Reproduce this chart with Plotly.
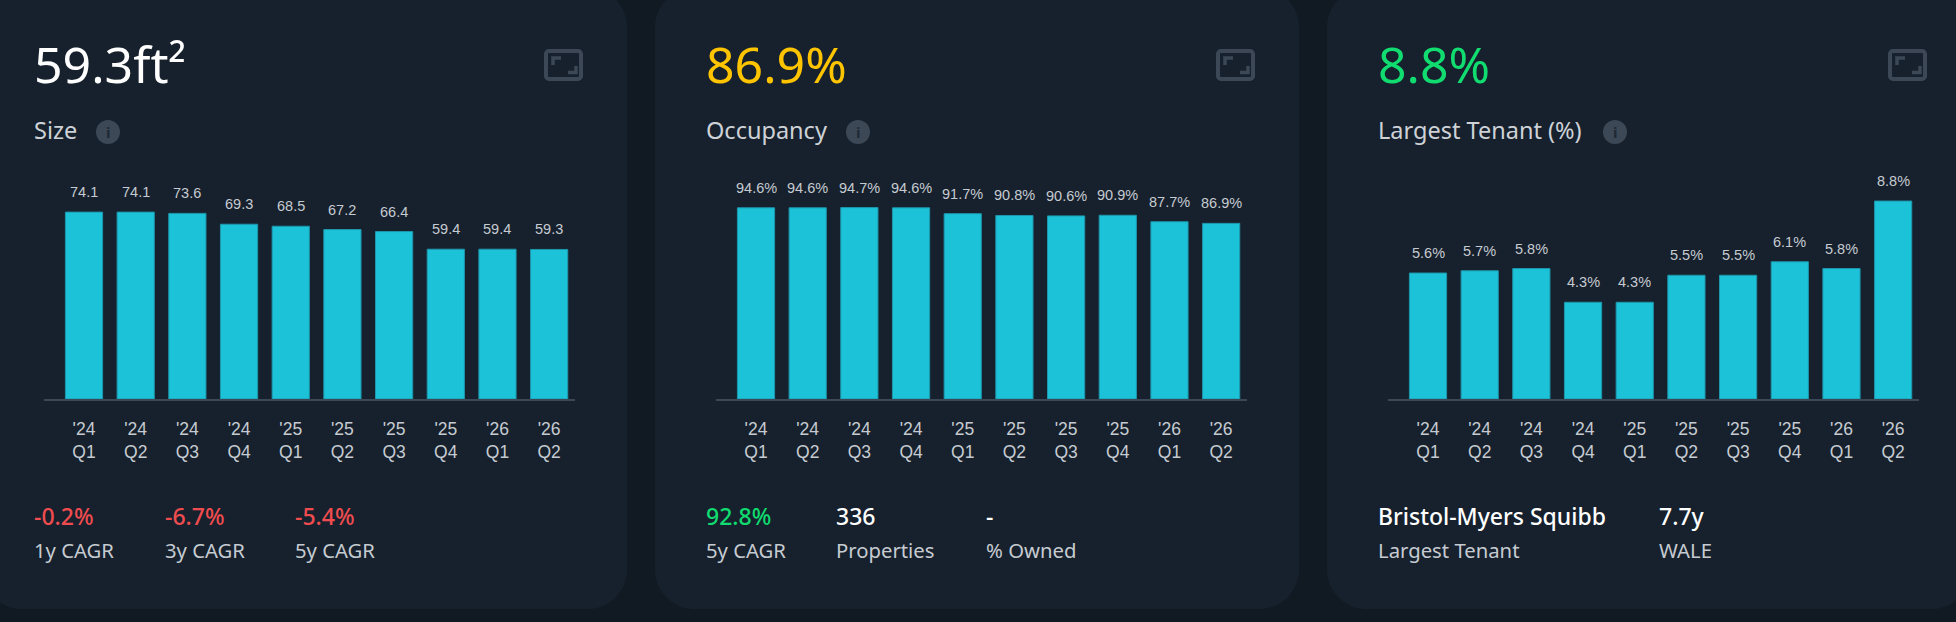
import plotly.graph_objects as go

W = 1956
H = 622

quarters = ["'24<br>Q1", "'24<br>Q2", "'24<br>Q3", "'24<br>Q4", "'25<br>Q1",
            "'25<br>Q2", "'25<br>Q3", "'25<br>Q4", "'26<br>Q1", "'26<br>Q2"]

size_values = [74.1, 74.1, 73.6, 69.3, 68.5, 67.2, 66.4, 59.4, 59.4, 59.3]
occupancy_values = [94.6, 94.6, 94.7, 94.6, 91.7, 90.8, 90.6, 90.9, 87.7, 86.9]
tenant_values = [5.6, 5.7, 5.8, 4.3, 4.3, 5.5, 5.5, 6.1, 5.8, 8.8]

size_labels = [f"{v}" for v in size_values]
occupancy_labels = [f"{v}%" for v in occupancy_values]
tenant_labels = [f"{v}%" for v in tenant_values]

headlines = ["59.3ft²", "86.9%", "8.8%"]
headline_colors = ["#ffffff", "#ffc400", "#10dc70"]
titles = ["Size", "Occupancy", "Largest Tenant (%)"]

size_stats = [("-0.2%", "1y CAGR"), ("-6.7%", "3y CAGR"), ("-5.4%", "5y CAGR")]
occupancy_stats = [("92.8%", "5y CAGR"), ("336", "Properties"), ("-", "% Owned")]
tenant_stats = [("Bristol-Myers Squibb", "Largest Tenant"), ("7.7y", "WALE")]

BG = "#111a23"
CARD = "#16212d"
BAR = "#1bc2d8"
MUTED = "#3c4855"
LABEL = "#c6cbd1"
FONT = "Noto Sans"
TICK_FONT = "Liberation Sans"

fig = go.Figure()


def px(x):
    return x / W


def py(y):
    return 1 - y / H


def text(x, y, s, size, color, weight=400, family=FONT, anchor="left"):
    fig.add_annotation(x=px(x), y=py(y), xref="paper", yref="paper", text=s, showarrow=False,
                       xanchor=anchor, yanchor="middle", borderpad=0, borderwidth=0,
                       font=dict(family=family, size=size, color=color, weight=weight))


def rounded(x0, y0, x1, y1, r):
    # svg path in paper coords, k pulls the control points so the corners read as arcs
    k = r * 0.45
    return (f"M {px(x0 + r)} {py(y0)} L {px(x1 - r)} {py(y0)} "
            f"C {px(x1 - k)} {py(y0)} {px(x1)} {py(y0 + k)} {px(x1)} {py(y0 + r)} L {px(x1)} {py(y1 - r)} "
            f"C {px(x1)} {py(y1 - k)} {px(x1 - k)} {py(y1)} {px(x1 - r)} {py(y1)} L {px(x0 + r)} {py(y1)} "
            f"C {px(x0 + k)} {py(y1)} {px(x0)} {py(y1 - k)} {px(x0)} {py(y1 - r)} L {px(x0)} {py(y0 + r)} "
            f"C {px(x0)} {py(y0 + k)} {px(x0 + k)} {py(y0)} {px(x0 + r)} {py(y0)} Z")


def card(i, card_x0, card_x1, values, labels, y_top, stats, stat_x, info_x):
    fig.add_shape(type="path", path=rounded(card_x0, -12, card_x1, 609, 39), xref="paper", yref="paper",
                  fillcolor=CARD, line_width=0, layer="below")

    ox = 672 * i
    name = "" if i == 0 else str(i + 1)
    fig.add_trace(go.Bar(x=quarters, y=values, marker=dict(color=BAR, line=dict(color="#1e96ab", width=1)),
                         showlegend=False, hoverinfo="skip", xaxis=f"x{name}", yaxis=f"y{name}"))
    fig.update_layout({
        f"xaxis{name}": dict(domain=[px(44 + ox), px(575 + ox)], range=[-0.774, 9.5], type="category",
                             anchor=f"y{name}", showgrid=False, zeroline=False, showline=True,
                             linecolor=MUTED, linewidth=2, ticks="", ticklabelstandoff=13,
                             tickangle=0, fixedrange=True,
                             tickfont=dict(family=TICK_FONT, size=17.5, color=LABEL)),
        f"yaxis{name}": dict(domain=[py(399), py(170)], range=[0, y_top], anchor=f"x{name}", visible=False,
                             fixedrange=True),
    })
    for q, v, lab in zip(quarters, values, labels):
        fig.add_annotation(x=q, y=v, xref=f"x{name}", yref=f"y{name}", text=lab, showarrow=False,
                           yanchor="bottom", yshift=10, font=dict(family=TICK_FONT, size=14.5, color=LABEL))

    text(34 + ox, 63.5, headlines[i], 50, headline_colors[i])
    text(34 + ox, 130, titles[i], 23.5, "#ced2d7")

    # info badge
    fig.add_shape(type="circle", xref="paper", yref="paper", x0=px(info_x - 12), x1=px(info_x + 12),
                  y0=py(144), y1=py(120), fillcolor=MUTED, line_width=0)
    text(info_x, 132, "i", 15, "#1f2a36", weight=700, anchor="center")

    # expand icon
    fig.add_shape(type="path", path=rounded(546 + ox, 51, 581 + ox, 79, 3), xref="paper", yref="paper",
                  line=dict(color=MUTED, width=4))
    fig.add_shape(type="path", xref="paper", yref="paper", line=dict(color=MUTED, width=3.5),
                  path=f"M {px(553 + ox)} {py(65)} L {px(553 + ox)} {py(58)} L {px(561 + ox)} {py(58)}")
    fig.add_shape(type="path", xref="paper", yref="paper", line=dict(color=MUTED, width=3.5),
                  path=f"M {px(568 + ox)} {py(72.5)} L {px(576 + ox)} {py(72.5)} L {px(576 + ox)} {py(66)}")

    for (value, caption), x in zip(stats, stat_x):
        if value.startswith("-") and len(value) > 1:
            color = "#f04c4f"
        elif value.endswith("%"):
            color = "#10dc70"
        else:
            color = "#ffffff"
        text(x, 516, value, 23, color, weight=500)
        text(x, 549.5, caption, 20.3, LABEL)


card(0, -17, 627, size_values, size_labels, 90.8, size_stats, [34, 165, 295], 108)
card(1, 655, 1299, occupancy_values, occupancy_labels, 113.3, occupancy_stats, [706, 836, 986], 858)
card(2, 1327, 1971, tenant_values, tenant_labels, 10.18, tenant_stats, [1378, 1659], 1615)

fig.update_layout(width=W, height=H, margin=dict(l=0, r=0, t=0, b=0), paper_bgcolor=BG, plot_bgcolor="rgba(0,0,0,0)",
                  bargap=0.28, showlegend=False)

fig.write_html("out.html", config=dict(displayModeBar=False),
               post_script="document.body.style.margin='0';document.body.style.overflow='hidden';")
